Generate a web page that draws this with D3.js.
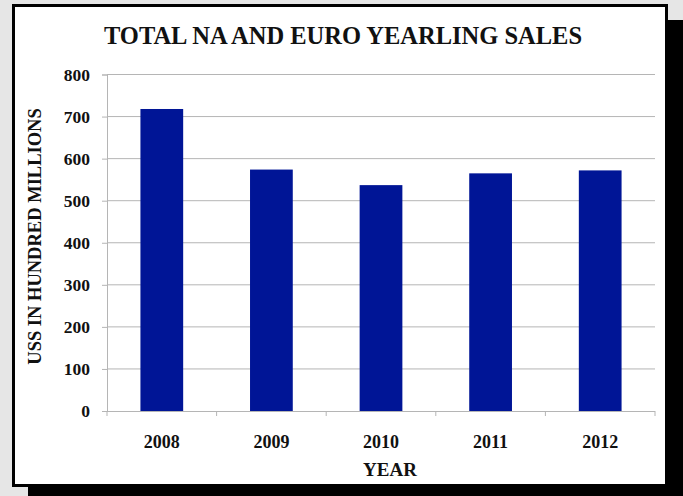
<!DOCTYPE html>
<html><head><meta charset="utf-8">
<script src="https://cdn.jsdelivr.net/npm/d3@7"></script>
<style>html,body{margin:0;padding:0;background:#e6e6e6;overflow:hidden}</style>
</head><body>
<svg id="c" width="683" height="496"></svg>
<script>
const years = ["2008","2009","2010","2011","2012"];
const sales = [718, 574, 537, 565, 572];
const yTicks = [0,100,200,300,400,500,600,700,800];
const title = "TOTAL NA AND EURO YEARLING SALES";
const xTitle = "YEAR";
const yTitle = "USS IN HUNDRED MILLIONS";

const svg = d3.select("#c");
const font = "'Liberation Serif','Times New Roman',serif";
// shadow
svg.append("rect").attr("x",28).attr("y",20).attr("width",655).attr("height",476).attr("fill","#000");
// panel
svg.append("rect").attr("x",13.5).attr("y",5.5).attr("width",653).attr("height",480).attr("fill","#fff").attr("stroke","#000").attr("stroke-width",3);

const m = {l:107, r:655, t:74.5, b:411};
const x = d3.scaleBand().domain(years).range([m.l,m.r]).paddingInner(0.61).paddingOuter(0.305);
const y = d3.scaleLinear().domain([0,800]).range([m.b,m.t]);

// gridlines
svg.append("g").selectAll("line").data(yTicks.filter(d=>d>0)).join("line")
  .attr("x1",m.l).attr("x2",m.r).attr("y1",d=>y(d)).attr("y2",d=>y(d))
  .attr("stroke","#b5b5b5").attr("stroke-width",1);

// y axis
const ya = svg.append("g").attr("transform",`translate(${m.l},0)`)
  .call(d3.axisLeft(y).tickValues(yTicks).tickSize(5).tickPadding(12));
ya.select(".domain").attr("stroke","#b5b5b5");
ya.selectAll(".tick line").attr("stroke","#b5b5b5");
ya.selectAll("text").attr("font-family",font).attr("font-weight","bold").attr("font-size",17.5).attr("fill","#111");

// bars
svg.append("g").selectAll("rect").data(sales).join("rect")
  .attr("x",(d,i)=>x(years[i])).attr("width",x.bandwidth())
  .attr("y",d=>y(d)).attr("height",d=>y(0)-y(d))
  .attr("fill","#001596");

// x axis
const xa = svg.append("g").attr("transform",`translate(0,${m.b})`)
  .call(d3.axisBottom(x).tickSize(0).tickPadding(24));
xa.select(".domain").remove();
svg.append("line").attr("x1",m.l).attr("x2",m.r).attr("y1",m.b+0.5).attr("y2",m.b+0.5).attr("stroke","#b5b5b5");
const bounds = d3.range(years.length+1).map(i=>m.l + i*(m.r-m.l)/years.length);
svg.append("g").selectAll("line").data(bounds).join("line")
  .attr("x1",d=>d).attr("x2",d=>d).attr("y1",m.b).attr("y2",m.b+5).attr("stroke","#b5b5b5");
xa.selectAll("text").attr("font-family",font).attr("font-weight","bold").attr("font-size",18).attr("fill","#111")
  .attr("dy",null).attr("y",37);

// titles
svg.append("text").attr("x",343).attr("y",44).attr("text-anchor","middle")
  .attr("font-family",font).attr("font-weight","bold").attr("font-size",24.5).attr("fill","#111").text(title);
svg.append("text").attr("x",390).attr("y",476).attr("text-anchor","middle")
  .attr("font-family",font).attr("font-weight","bold").attr("font-size",19).attr("fill","#111").text(xTitle);
svg.append("text").attr("transform","translate(40.5,236.5) rotate(-90)").attr("text-anchor","middle")
  .attr("font-family",font).attr("font-weight","bold").attr("font-size",18.5).attr("fill","#111").text(yTitle);
</script>
</body></html>
